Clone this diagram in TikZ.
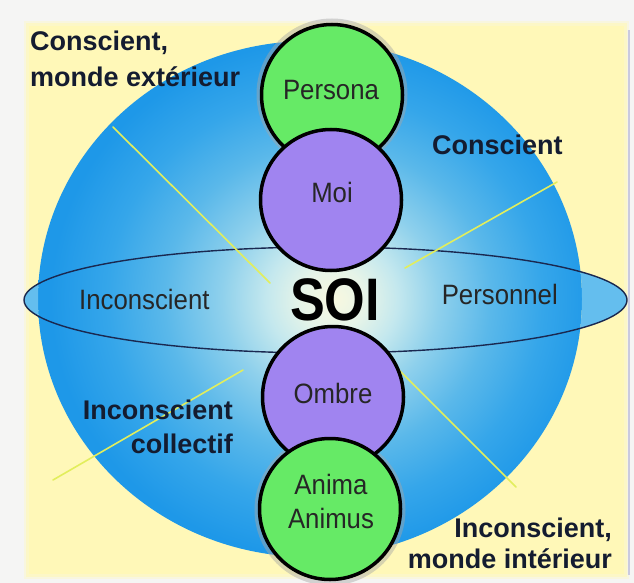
\documentclass[tikz,border=0pt]{standalone}
\usepackage{fontspec}
\setmainfont{Liberation Sans}
\newfontfamily\lblfont[FakeStretch=0.92]{Liberation Sans}
\newfontfamily\soifont[FakeStretch=0.87]{Liberation Sans}
\definecolor{outerbg}{HTML}{F5F5F4}
\definecolor{ybg}{HTML}{FFF8B8}
\definecolor{greenfill}{HTML}{66EA66}
\definecolor{purplefill}{HTML}{A084F0}
\definecolor{lblcol}{HTML}{141C30}
\definecolor{ellcol}{HTML}{1A2850}
\definecolor{raycol}{HTML}{E2EE5C}
\definecolor{tipblue}{HTML}{64BEEE}
\definecolor{rightline}{HTML}{CACAE0}
\pgfdeclareradialshading{sphereshade}{\pgfpoint{2.3bp}{0bp}}{%
rgb(0bp)=(0.973,0.973,0.878);
rgb(3bp)=(0.902,0.957,0.910);
rgb(6bp)=(0.769,0.910,0.933);
rgb(10bp)=(0.557,0.816,0.925);
rgb(15bp)=(0.353,0.722,0.918);
rgb(20bp)=(0.208,0.651,0.918);
rgb(25bp)=(0.118,0.596,0.910);
rgb(50bp)=(0.118,0.596,0.910)}
\begin{document}
\begin{tikzpicture}[x=1pt,y=-1pt,
  bigcircle/.style={circle, draw=black, line width=3.5pt, inner sep=0pt, minimum size=141pt},
  greenc/.style={bigcircle, fill=greenfill},
  purplec/.style={bigcircle, fill=purplefill},
  glow/.style={circle, draw=gray!70, line width=8pt, opacity=0.45, inner sep=0pt, minimum size=143pt},
  ray/.style={draw=raycol, line width=1.6pt, line cap=round},
  boldlbl/.style={font=\bfseries\fontsize{27}{33}\selectfont, text=lblcol, inner sep=0pt},
  inlbl/.style={font=\lblfont\fontsize{28}{34}\selectfont, text=black!85, inner sep=0pt},
]
\useasboundingbox (0,0) rectangle (634,583);
% background
\fill[outerbg] (0,0) rectangle (634,583);
\fill[ybg, opacity=0.35] (24,21) rectangle (629,579);
\fill[ybg, opacity=0.6] (26,23) rectangle (627,577);
\fill[ybg] (29,26) rectangle (624,574);
\draw[rightline, line width=1.5pt] (629,30) -- (629,575);
% sphere
\shade[shading=sphereshade] (310,299) ellipse [x radius=272pt, y radius=258pt];
% ellipse tips outside sphere
\begin{scope}
\clip (325.5,300) ellipse [x radius=301.5pt, y radius=53pt];
\fill[tipblue, even odd rule] (0,0) rectangle (634,583) (310,299) ellipse [x radius=272pt, y radius=258pt];
\end{scope}
\draw[ellcol, line width=1.4pt] (325.5,300) ellipse [x radius=301.5pt, y radius=53pt];
% rays
\draw[ray] (113,127) -- (270,283);
\draw[ray] (557,182) -- (405,268);
\draw[ray] (53,480) -- (243,370);
\draw[ray] (386,357) -- (516,487);
% circles
\node[glow] (personaglow) at (332,94) {};
\node[glow] (animaglow) at (330,510) {};
\node[greenc] (persona) at (332,95) {};
\node[purplec] (moi) at (331,200) {};
\node[purplec] (ombre) at (333,397) {};
\node[greenc] (anima) at (330,509) {};
% circle labels
\node[inlbl, anchor=base] (tpersona) at (331,100) {Persona};
\node[inlbl, anchor=base] (tmoi) at (332,202) {Moi};
\node[inlbl, anchor=base] (tombre) at (333,403) {Ombre};
\node[inlbl, anchor=base] (tanima) at (331,494) {Anima};
\node[inlbl, anchor=base] (tanimus) at (331,528) {Animus};
\node[inlbl, anchor=base west] (tincons) at (79,309) {Inconscient};
\node[inlbl, anchor=base east] (tperso) at (558,304) {Personnel};
% SOI
\node[font=\soifont\bfseries\fontsize{60}{60}\selectfont, inner sep=0pt, anchor=base] (soi) at (335,320) {SOI};
% outer labels
\node[boldlbl, anchor=base west] (tl1) at (30,51) {Conscient,};
\node[boldlbl, anchor=base west] (tl2) at (30,87) {monde extérieur};
\node[boldlbl, anchor=base west] (tr1) at (432,154) {Conscient};
\node[boldlbl, anchor=base east] (ll1) at (233,419) {Inconscient};
\node[boldlbl, anchor=base east] (ll2) at (233,453) {collectif};
\node[boldlbl, anchor=base east] (lr1) at (612,537) {Inconscient,};
\node[boldlbl, anchor=base east] (lr2) at (612,568) {monde intérieur};
\end{tikzpicture}
\end{document}
